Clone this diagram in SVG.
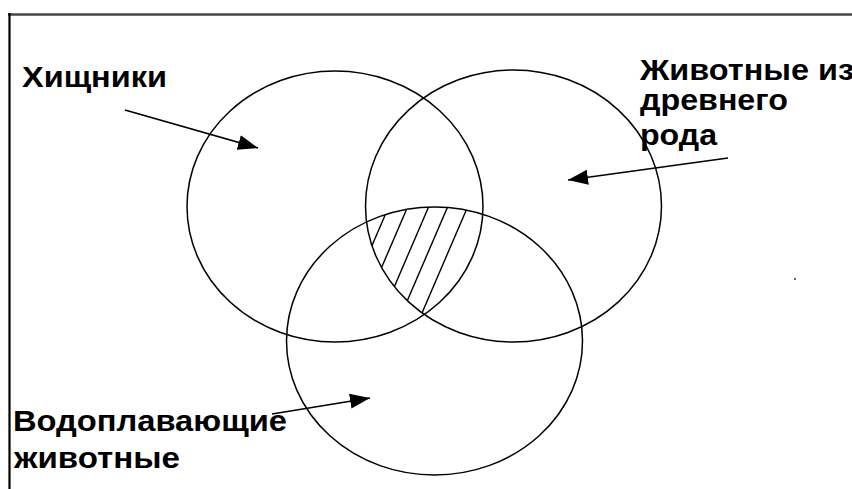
<svg xmlns="http://www.w3.org/2000/svg" width="852" height="489" viewBox="0 0 852 489">
  <style>
    .set { fill: none; stroke: #000; stroke-width: 1.5; }
    .lbl { font-family: "Liberation Sans", Arial, sans-serif; font-weight: bold; font-size: 29px; fill: #000; }
    .arrow { stroke: #000; stroke-width: 1.6; fill: none; marker-end: url(#head); }
    .hatch { stroke: #000; stroke-width: 1.4; }
  </style>
  <defs>
    <marker id="head" markerUnits="userSpaceOnUse" markerWidth="22" markerHeight="16" refX="20" refY="7.5" orient="auto">
      <path d="M0,0 L20,7.5 L0,15 Z" fill="#000"/>
    </marker>
    <clipPath id="cL"><ellipse cx="335" cy="206.5" rx="148" ry="135.5"/></clipPath>
    <clipPath id="cR"><ellipse cx="513.5" cy="206" rx="148" ry="136"/></clipPath>
    <clipPath id="cB"><ellipse cx="434.5" cy="341" rx="148" ry="134"/></clipPath>
  </defs>
  <rect width="852" height="489" fill="#fff"/>
  <g id="frame">
    <line x1="8" y1="14.5" x2="852" y2="14.5" stroke="#444" stroke-width="2.5"/>
    <line x1="9.5" y1="13" x2="9.5" y2="489" stroke="#000" stroke-width="2.2"/>
  </g>
  <g id="predators">
    <ellipse class="set" cx="335" cy="206.5" rx="148" ry="135.5"/>
    <text class="lbl" x="22" y="87" textLength="145" lengthAdjust="spacingAndGlyphs">Хищники</text>
  </g>
  <g id="ancient">
    <ellipse class="set" cx="513.5" cy="206" rx="148" ry="136"/>
    <text class="lbl" x="640" y="80" textLength="214" lengthAdjust="spacingAndGlyphs">Животные из</text>
    <text class="lbl" x="640" y="110" textLength="148" lengthAdjust="spacingAndGlyphs">древнего</text>
    <text class="lbl" x="640" y="145" textLength="77" lengthAdjust="spacingAndGlyphs">рода</text>
  </g>
  <g id="aquatic">
    <ellipse class="set" cx="434.5" cy="341" rx="148" ry="134"/>
    <text class="lbl" x="13" y="431" textLength="274" lengthAdjust="spacingAndGlyphs">Водоплавающие</text>
    <text class="lbl" x="14" y="468" textLength="166" lengthAdjust="spacingAndGlyphs">животные</text>
  </g>
  <g id="intersection">
    <g clip-path="url(#cL)">
      <g clip-path="url(#cR)">
        <g clip-path="url(#cB)">
          <line class="hatch" x1="394.6" y1="193" x2="334.4" y2="333"/>
          <line class="hatch" x1="413.6" y1="193" x2="353.4" y2="333"/>
          <line class="hatch" x1="434.6" y1="193" x2="374.4" y2="333"/>
          <line class="hatch" x1="453.6" y1="193" x2="393.4" y2="333"/>
          <line class="hatch" x1="473.6" y1="193" x2="413.4" y2="333"/>
        </g>
      </g>
    </g>
  </g>
  <g id="connectors">
    <line class="arrow" x1="125" y1="110" x2="258" y2="148"/>
    <line class="arrow" x1="728" y1="158" x2="568" y2="180"/>
    <line class="arrow" x1="272" y1="414" x2="370" y2="398"/>
  </g>
  <rect x="794" y="278" width="2" height="2" fill="#666"/>
</svg>
